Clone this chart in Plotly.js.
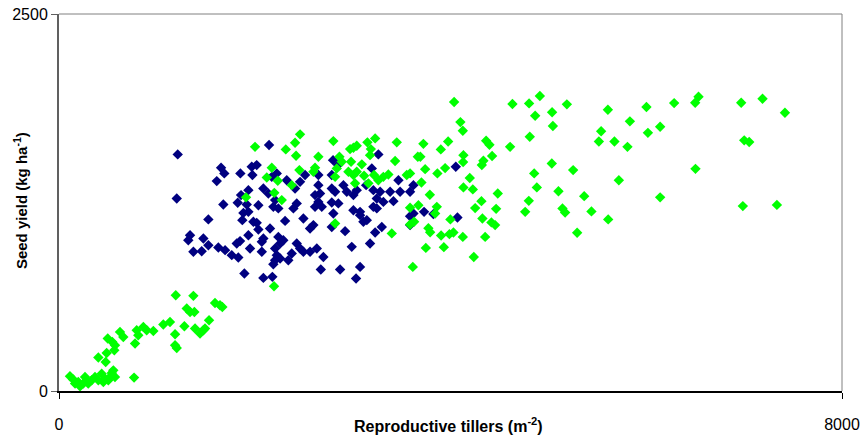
<!DOCTYPE html>
<html>
<head>
<meta charset="utf-8">
<script src="https://cdn.plot.ly/plotly-3.0.1.min.js"></script>
<style>html,body{margin:0;padding:0;background:#fff;}#chart{width:862px;height:439px;}</style>
</head>
<body>
<div id="chart"></div>
<script>
// Series 1 (navy): reproductive tillers (m-2) and seed yield (kg ha-1)
const navyX = [1213,1203,2146,1656,1689,1612,1853,1969,2020,1976,2088,2139,2174,2225,2327,1935,1860,1826,1918,1884,1935,1679,2037,2208,2190,2241,2310,1526,1873,1986,2020,2037,2156,1935,2088,2072,1339,1321,1475,1526,1628,1697,1765,1832,1816,1850,1373,1458,1952,2072,2241,2259,2292,2208,2225,2208,2259,2343,2378,2190,1894,2088,2180,
  3263,3196,3468,2514,2463,2412,2650,2650,2787,2787,2821,2906,2940,3008,3042,3138,3212,3281,3247,3314,3383,3417,3485,3587,3621,2616,2667,2650,2429,2395,2787,2854,3008,3076,3212,3247,2616,2685,2803,2497,2599,2565,3076,3145,3110,2787,2923,3230,3298,3178,2991,2429,2463,2497,2565,2634,2701,2675,2872,3076,3035,
  4054,3621,3587,3730,3825,4071,3587,2800,2851];
const navyY = [1569,1277,1631,1480,1443,1392,1443,1487,1498,1432,1343,1310,1420,1443,1398,1332,1299,1248,1237,1181,1188,1237,1232,1266,1221,1211,1128,1138,1133,1122,1115,1071,1078,1033,1011,989,1033,1000,1011,967,952,934,901,885,978,994,923,927,945,923,1022,978,1000,945,901,867,879,867,912,841,779,750,757,
  1569,1476,1398,1432,1387,1343,1432,1365,1432,1343,1321,1365,1321,1299,1332,1365,1332,1321,1277,1254,1321,1259,1321,1321,1365,1299,1310,1254,1244,1211,1250,1244,1199,1188,1221,1211,1221,1221,1177,1144,1100,1078,1166,1133,1122,1088,1060,1051,1088,978,956,978,945,923,923,945,889,806,806,823,746,
  1487,1177,1159,1188,1173,1151,1100,1531,1498];

// Series 2 (green)
const greenX = [112,146,197,215,266,283,299,334,368,402,436,470,504,521,453,248,164,555,539,572,767,402,487,477,498,545,572,565,623,657,794,862,896,810,777,964,1066,1134,1186,1186,1203,1193,1373,1305,1339,1383,1281,1390,1441,1475,1492,1533,1594,1645,1669,2197,
  2003,2317,2174,2123,2235,2200,2276,1911,2378,2463,2412,2422,2803,2650,3008,3042,2974,3151,3230,3186,3178,3451,3666,2456,2616,2599,2865,2889,2838,2984,3094,2957,3008,3042,2821,3117,3219,3314,3365,3263,3434,3553,3587,3025,3161,3587,3672,3587,3628,2821,3400,3615,
  4037,4633,4803,4865,4101,4126,3723,3976,3901,4364,4398,4609,4810,3692,4132,4425,4336,4320,4129,3741,3945,3866,4197,4855,4882,3703,4132,4228,4483,3789,4316,4800,4252,4466,4763,3860,3843,4326,4418,4456,3999,3774,3792,3904,3989,4030,4126,4354,3748,3932,4238,
  4913,5189,5038,5046,5608,6002,6285,5833,5539,6142,6017,5516,5675,5808,5035,5253,5103,5720,5366,5144,5171,5440,5611,5294,6142,
  6500,6534,6970,7188,7417,7001,7052,6503,6987,7335];
const greenY = [98,76,60,31,93,71,49,71,93,71,115,82,71,93,60,49,49,137,119,93,89,222,252,192,348,325,303,270,392,358,403,425,403,370,315,398,441,458,376,303,285,635,631,547,524,524,429,414,381,403,414,469,584,569,557,695,
  1619,1602,1480,1416,1394,1314,1266,1284,1365,1702,1646,1560,1657,1553,1613,1626,1604,1649,1675,1604,1564,1649,1553,1465,1480,1454,1553,1520,1476,1520,1503,1454,1432,1454,1420,1427,1432,1420,1436,1398,1525,1432,1443,1377,1377,1215,1232,1104,1122,1111,1045,823,
  1916,1903,1907,1825,1783,1726,1639,1655,1602,1659,1633,1619,1686,1553,1564,1558,1527,1498,1518,1471,1478,1443,1412,1443,1350,1383,1350,1337,1310,1301,1259,1261,1213,1208,1188,1221,1177,1144,1118,1100,1138,1080,1053,1031,1040,1051,1022,1022,949,954,889,
  1956,1901,1848,1757,1865,1883,1909,1788,1722,1752,1712,1655,1655,1619,1509,1465,1325,1398,1292,1211,1184,1191,1138,1049,1284,
  1911,1951,1911,1938,1845,1662,1651,1473,1226,1234];

const xTicks = [0, 8000];
const yTicks = [0, 2500];
const xTitle = 'Reproductive tillers (m<sup>-2</sup>)';
const yTitle = 'Seed yield (kg ha<sup>-1</sup>)';

const FONT = 'Arial, "Liberation Sans", sans-serif';

const traces = [
  {x: navyX, y: navyY, type: 'scatter', mode: 'markers', name: 'navy',
   marker: {symbol: 'diamond', size: 8, color: '#000080'}},
  {x: greenX, y: greenY, type: 'scatter', mode: 'markers', name: 'green',
   marker: {symbol: 'diamond', size: 8, color: '#00FF00'}}
];

const layout = {
  width: 862, height: 439,
  margin: {l: 59, r: 20, t: 14, b: 48, pad: 0},
  paper_bgcolor: '#fff', plot_bgcolor: '#fff',
  showlegend: false,
  font: {family: FONT, size: 16, color: '#000'},
  xaxis: {
    range: [0, 8000], tickvals: xTicks, ticktext: xTicks.map(String),
    showgrid: false, zeroline: false, showline: true, linecolor: '#000', linewidth: 1.5,
    ticks: 'outside', ticklen: 6, tickcolor: '#000', tickwidth: 1,
    ticklabelstandoff: 12, tickfont: {family: FONT, size: 16, color: '#000'}
  },
  yaxis: {
    range: [0, 2500], tickvals: yTicks, ticktext: yTicks.map(String),
    showgrid: false, zeroline: false, showline: true, linecolor: '#606060', linewidth: 2,
    ticks: 'outside', ticklen: 6, tickcolor: '#606060', tickwidth: 1,
    tickfont: {family: FONT, size: 16, color: '#000'}
  },
  shapes: [
    {type: 'line', xref: 'paper', yref: 'paper', x0: 0, x1: 1, y0: 1, y1: 1, line: {color: '#808080', width: 1}},
    {type: 'line', xref: 'paper', yref: 'paper', x0: 1, x1: 1, y0: 0, y1: 1, line: {color: '#808080', width: 1}}
  ],
  annotations: [
    {text: '<b>' + xTitle + '</b>', xref: 'paper', yref: 'paper', x: 0.497, y: -0.091,
     xanchor: 'center', yanchor: 'middle', showarrow: false, font: {family: FONT, size: 16, color: '#000'}},
    {text: '<b>' + yTitle + '</b>', xref: 'paper', yref: 'paper', x: -0.05, y: 0.506, textangle: -90,
     xanchor: 'center', yanchor: 'middle', showarrow: false, font: {family: FONT, size: 15, color: '#000'}}
  ]
};

Plotly.newPlot('chart', traces, layout, {staticPlot: true, displayModeBar: false});
</script>
</body>
</html>
